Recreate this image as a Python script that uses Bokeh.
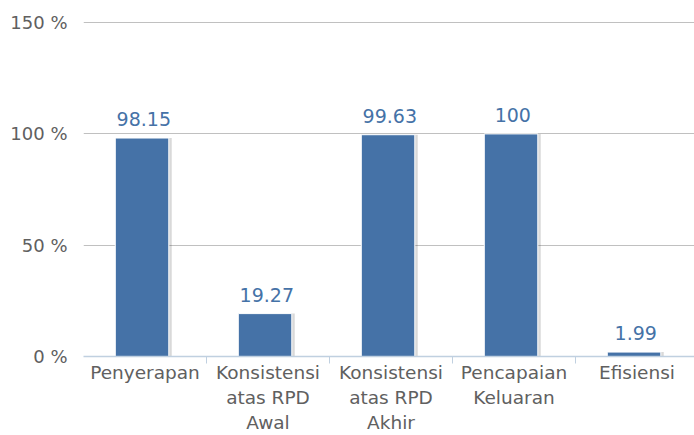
from bokeh.plotting import figure
from bokeh.models import (Range1d, FixedTicker, LinearAxis, ColumnDataSource)
from bokeh.transform import dodge
from bokeh.core.properties import value
from bokeh.embed import file_html
from bokeh.resources import INLINE

categories = ["Penyerapan", "Konsistensi\natas RPD\nAwal", "Konsistensi\natas RPD\nAkhir",
              "Pencapaian\nKeluaran", "Efisiensi"]
values = [98.15, 19.27, 99.63, 100, 1.99]
value_labels = ["98.15", "19.27", "99.63", "100", "1.99"]
y_ticks = [0, 50, 100, 150]
y_tick_labels = ["0 %", "50 %", "100 %", "150 %"]

BLUE = "#4572A7"
FONT = "DejaVu Sans"
GRAY = "#606060"

n = len(categories)
idx = list(range(n))
boundaries = [i + 0.5 for i in idx[:-1]]

src = ColumnDataSource(data=dict(x=idx, val=values, lbl=value_labels))

p = figure(width=694, height=435, x_range=Range1d(-0.5, -0.5 + 611 / 123),
           y_range=Range1d(0, 150.5), output_backend="svg", toolbar_location=None,
           x_axis_location=None, min_border_left=83, min_border_right=0,
           min_border_top=21, min_border_bottom=4)
p.outline_line_color = None
p.background_fill_color = "white"
p.border_fill_color = "white"
p.xgrid.visible = False

# y axis
p.yaxis.ticker = FixedTicker(ticks=y_ticks)
p.yaxis.major_label_overrides = {t: l for t, l in zip(y_ticks, y_tick_labels)}
p.yaxis.axis_line_color = None
p.yaxis.major_tick_line_color = None
p.yaxis.minor_tick_line_color = None
p.yaxis.major_tick_out = 0
p.yaxis.major_tick_in = 0
p.yaxis.major_label_standoff = 16
p.yaxis.major_label_text_font = FONT
p.yaxis.major_label_text_font_size = "18px"
p.yaxis.major_label_text_color = GRAY
p.ygrid.grid_line_color = "#C0C0C0"
p.ygrid.grid_line_width = 1

# x axis line with ticks at category boundaries
tk_axis = LinearAxis(ticker=FixedTicker(ticks=boundaries),
                     axis_line_color="#C0D0E0", axis_line_width=1.5,
                     major_tick_line_color="#C0D0E0", major_tick_in=0, major_tick_out=7,
                     minor_tick_line_color=None, major_label_text_alpha=0,
                     major_label_text_font_size="1px", major_label_standoff=0)
p.add_layout(tk_axis, "below")

# category labels
cat_axis = LinearAxis(ticker=FixedTicker(ticks=idx),
                      major_label_overrides={i: c for i, c in zip(idx, categories)},
                      axis_line_color=None, major_tick_line_color=None,
                      minor_tick_line_color=None,
                      major_tick_in=0, major_tick_out=0, major_label_standoff=-2,
                      major_label_text_font=FONT, major_label_text_font_size="18.5px",
                      major_label_text_color=GRAY, major_label_text_line_height=1.2)
p.add_layout(cat_axis, "below")

# shadow
p.vbar(x=dodge("x", 0.0, range=p.x_range), top="val", width=0.435, source=src,
       fill_color="#000000", fill_alpha=0.15, line_color=None)
# bars
p.vbar(x=dodge("x", -0.024, range=p.x_range), top="val", width=0.435, source=src,
       fill_color=BLUE, line_color="white", line_width=1)

p.text(x=dodge("x", -0.01, range=p.x_range), y="val", text="lbl", source=src,
       text_align="center", text_baseline="alphabetic", y_offset=-19,
       text_font=value(FONT), text_font_size=value("19px"), text_color=BLUE)

open("out.html", "w").write(file_html(p, INLINE))
